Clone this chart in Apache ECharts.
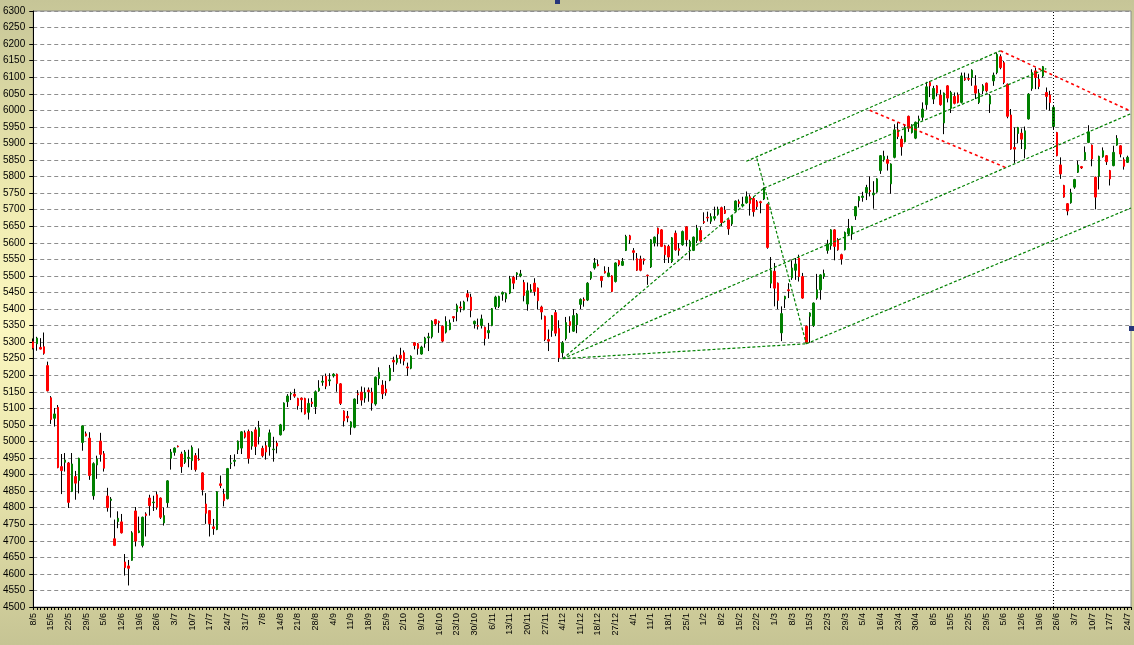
<!DOCTYPE html>
<html>
<head>
<meta charset="utf-8">
<title>CAC 40</title>
<script src="https://cdn.jsdelivr.net/npm/echarts@6.0.0/dist/echarts.min.js"></script>
<style>
  html, body { margin: 0; padding: 0; }
  body {
    width: 1134px; height: 645px; overflow: hidden;
    background: linear-gradient(to bottom, #c6c597 0%, #eeeab0 30%, #fbf7c0 50%, #ebe7ae 72%, #c6c494 100%);
  }
  #chart { width: 1134px; height: 645px; }
</style>
</head>
<body>
<div id="chart"></div>
<script>
  // trading calendar: first session and the days the market was shut
  const firstDay = [2006, 5, 8];
  const holidays = ['25/12/2006', '26/12/2006', '1/1/2007', '6/4/2007', '9/4/2007', '1/5/2007'];

  const opens = [
    5301,5295,5284,5286,5229,5132,5070,5103,4924,4937,
    4935,4849,4894,4882,4997,5023,5010,4836,4929,5001,
    4963,4835,4822,4706,4758,4757,4636,4624,4641,4790,
    4725,4686,4781,4829,4815,4839,4829,4754,4815,4949,
    4967,4986,4962,4937,4949,4942,4957,4947,4905,4811,
    4791,4742,4734,4872,4841,4827,4933,4940,4975,4980,
    5026,5030,4986,5035,5015,4979,4987,4984,4975,4995,
    5020,5035,5120,5143,5143,5130,5131,5130,5088,5119,
    5105,5153,5179,5197,5183,5198,5203,5174,5092,5076,
    5043,5043,5144,5149,5131,5155,5149,5113,5190,5170,
    5158,5185,5245,5239,5260,5268,5225,5221,5298,5295,
    5264,5296,5313,5316,5368,5362,5348,5330,5338,5377,
    5392,5406,5398,5446,5436,5355,5350,5350,5345,5328,
    5350,5407,5408,5445,5431,5448,5496,5504,5500,5480,
    5415,5453,5478,5463,5406,5378,5308,5335,5389,5341,
    5268,5311,5362,5333,5352,5414,5429,5427,5493,5524,
    5534,5498,5514,5498,5500,5483,5546,5532,5577,5621,
    5576,5552,5551,5551,5502,5527,5599,5644,5639,5591,
    5589,5543,5629,5582,5594,5648,5589,5577,5607,5637,
    5664,5677,5665,5674,5686,5706,5699,5669,5657,5697,
    5724,5712,5721,5739,5734,5724,5724,5732,5716,5478,
    5514,5478,5328,5430,5458,5494,5517,5554,5498,5348,
    5378,5350,5433,5458,5498,5577,5591,5639,5609,5564,
    5579,5627,5627,5681,5727,5737,5751,5758,5745,5753,
    5818,5851,5851,5778,5858,5941,5913,5905,5982,5933,
    5916,5969,5979,6017,6084,6034,6074,6046,5962,6074,
    6006,6042,6046,6024,6096,6096,6099,6074,6024,6059,
    6082,6019,6089,6114,6162,6144,6079,5986,5888,5930,
    5931,5883,5974,6066,6119,6094,6104,6054,6046,5951,
    5933,5835,5773,5718,5721,5768,5813,5830,5851,5903,
    5895,5798,5801,5860,5863,5818,5833,5895,5893,5851,5843
  ];
  const closes = [
    5282,5312,5279,5266,5153,5066,5083,4921,4912,4944,
    4816,4932,4874,4949,5047,5017,4897,4933,4947,4961,
    4919,4800,4826,4686,4768,4724,4619,4617,4724,4699,
    4730,4771,4776,4806,4817,4801,4771,4776,4881,4968,
    4980,4984,4924,4968,4952,4982,4915,4945,4854,4783,
    4752,4737,4848,4867,4821,4918,4935,4943,5001,5029,
    5013,4949,5028,4985,5041,4957,4968,5026,4977,4986,
    5050,5116,5137,5145,5137,5108,5126,5083,5115,5114,
    5150,5161,5182,5167,5186,5203,5175,5115,5062,5071,
    5059,5128,5141,5125,5147,5150,5116,5194,5209,5144,
    5147,5221,5240,5251,5251,5243,5222,5257,5290,5281,
    5285,5312,5316,5363,5355,5359,5303,5362,5358,5373,
    5410,5403,5421,5436,5396,5363,5348,5370,5311,5335,
    5401,5436,5438,5450,5447,5491,5478,5509,5506,5441,
    5455,5458,5453,5425,5391,5308,5303,5380,5327,5253,
    5298,5359,5350,5380,5384,5429,5426,5478,5511,5539,
    5531,5486,5509,5509,5453,5539,5534,5544,5619,5609,
    5571,5517,5517,5546,5500,5609,5617,5627,5589,5564,
    5557,5615,5579,5577,5634,5609,5604,5617,5644,5607,
    5661,5675,5679,5679,5701,5661,5689,5642,5682,5726,
    5719,5716,5739,5719,5694,5709,5721,5762,5586,5516,
    5463,5426,5386,5438,5455,5524,5536,5498,5433,5298,
    5388,5418,5458,5503,5507,5596,5639,5589,5579,5551,
    5631,5643,5649,5709,5739,5741,5767,5755,5750,5793,
    5863,5861,5840,5838,5941,5921,5890,5948,5946,5951,
    5964,5974,6004,6071,6074,6066,6052,6017,6052,6037,
    6054,6021,6024,6104,6092,6094,6121,6052,6052,6074,
    6059,6044,6106,6169,6129,6084,5982,5883,5883,5948,
    5913,5938,6049,6114,6099,6072,6132,6042,6024,6009,
    5863,5808,5738,5696,5751,5791,5835,5826,5873,5935,
    5853,5738,5861,5878,5845,5793,5873,5915,5868,5831,5858
  ];
  const lows = [
    5278,5274,5278,5262,5151,5053,5045,4919,4841,4909,
    4799,4847,4824,4843,4972,5015,4884,4824,4887,4939,
    4909,4788,4770,4684,4738,4722,4595,4565,4640,4683,
    4723,4680,4713,4776,4790,4794,4766,4746,4801,4915,
    4957,4982,4905,4932,4922,4914,4909,4942,4837,4751,
    4713,4718,4732,4859,4804,4825,4917,4925,4962,4962,
    5009,4933,4975,4959,4991,4952,4945,4957,4939,4964,
    5018,5031,5104,5125,5132,5096,5088,5081,5066,5104,
    5083,5150,5168,5158,5168,5193,5150,5110,5045,5058,
    5020,5040,5113,5108,5117,5120,5093,5108,5170,5128,
    5138,5182,5210,5232,5235,5230,5198,5218,5278,5262,
    5262,5283,5273,5311,5350,5328,5300,5326,5336,5361,
    5363,5390,5396,5423,5375,5341,5338,5341,5290,5310,
    5348,5400,5403,5425,5420,5445,5460,5488,5496,5423,
    5395,5450,5440,5399,5368,5303,5273,5316,5318,5240,
    5253,5305,5328,5331,5327,5400,5407,5424,5488,5519,
    5529,5465,5507,5496,5451,5480,5529,5530,5575,5597,
    5547,5515,5514,5534,5473,5524,5589,5589,5587,5539,
    5539,5539,5576,5561,5591,5589,5547,5575,5599,5604,
    5657,5664,5657,5667,5682,5651,5687,5624,5651,5694,
    5707,5707,5719,5682,5679,5701,5689,5729,5582,5463,
    5408,5400,5303,5403,5433,5488,5488,5483,5431,5294,
    5298,5346,5428,5428,5491,5567,5579,5547,5576,5534,
    5577,5621,5609,5669,5707,5724,5729,5740,5703,5751,
    5808,5845,5818,5748,5855,5913,5863,5903,5935,5930,
    5913,5948,5969,6002,6040,6019,6042,6014,5928,6024,
    5992,6018,6021,6021,6089,6089,6074,6034,6019,6049,
    6054,5992,6074,6109,6124,6079,5976,5881,5841,5900,
    5883,5855,5972,6059,6064,6064,6099,6002,5999,5943,
    5861,5793,5736,5683,5718,5763,5811,5823,5848,5901,
    5831,5701,5761,5857,5835,5773,5831,5893,5858,5821,5841
  ];
  const highs = [
    5311,5316,5312,5329,5241,5137,5101,5110,4962,4965,
    4938,4965,4911,4951,5048,5030,5028,4937,4957,5026,
    4971,4860,4832,4764,4789,4781,4660,4642,4729,4802,
    4773,4773,4786,4839,4836,4849,4831,4801,4883,4977,
    4982,4988,4969,4974,4975,4988,4965,4979,4907,4844,
    4793,4766,4850,4897,4857,4920,4959,4961,5003,5031,
    5033,5036,5031,5043,5062,4987,5000,5036,5014,5002,
    5053,5118,5143,5150,5159,5132,5133,5132,5130,5131,
    5154,5185,5198,5205,5206,5206,5205,5176,5094,5092,
    5061,5130,5155,5166,5163,5163,5162,5196,5224,5185,
    5183,5231,5256,5262,5283,5275,5238,5260,5300,5297,
    5289,5316,5328,5366,5370,5365,5350,5378,5368,5378,
    5416,5423,5425,5457,5446,5365,5371,5383,5347,5358,
    5403,5440,5440,5453,5449,5500,5500,5511,5518,5488,
    5480,5475,5493,5465,5410,5380,5338,5382,5397,5366,
    5303,5376,5378,5400,5388,5432,5435,5481,5514,5554,
    5549,5500,5529,5527,5502,5541,5549,5554,5624,5624,
    5584,5569,5561,5553,5504,5611,5619,5646,5641,5594,
    5594,5617,5637,5599,5637,5650,5609,5619,5654,5647,
    5692,5694,5689,5709,5709,5709,5711,5671,5684,5728,
    5731,5739,5755,5746,5739,5729,5727,5767,5719,5557,
    5539,5480,5408,5440,5478,5547,5554,5564,5509,5350,
    5390,5420,5506,5505,5519,5609,5641,5641,5614,5567,
    5634,5672,5651,5711,5741,5754,5775,5800,5786,5795,
    5865,5878,5863,5840,5958,5964,5923,5958,5984,5958,
    5966,5984,6024,6086,6088,6074,6076,6062,6054,6076,
    6059,6054,6054,6114,6114,6111,6124,6106,6064,6079,
    6084,6049,6114,6174,6169,6149,6081,6004,5948,5950,
    5945,5951,6052,6124,6129,6109,6134,6069,6059,6014,
    5935,5858,5775,5720,5763,5793,5848,5832,5891,5955,
    5897,5800,5863,5888,5865,5820,5893,5925,5895,5858,5863
  ];

  // drawn lines: [fromDay, fromValue, toDay, toValue]
  const greenLines = [
    [150, 5250, 207, 5765],
    [150, 5250, 219, 5295],
    [150, 5250, 311, 5990],
    [207, 5765, 287, 6126],
    [219, 5295, 311, 5705],
    [202, 5846, 274, 6180],
    [205, 5855, 219, 5295]
  ];
  const redLines = [
    [274, 6180, 311, 5997],
    [237, 6000, 276, 5825]
  ];
  const cursorDay = 289;

  function tradingDays (count) {
    const out = [];
    const d = new Date(firstDay[0], firstDay[1] - 1, firstDay[2]);
    while (out.length < count) {
      const wd = d.getDay();
      const key = d.getDate() + '/' + (d.getMonth() + 1) + '/' + d.getFullYear();
      if (wd !== 0 && wd !== 6 && holidays.indexOf(key) < 0) {
        out.push(d.getDate() + '/' + (d.getMonth() + 1));
      }
      d.setDate(d.getDate() + 1);
    }
    return out;
  }

  const days = tradingDays(opens.length);
  days.push('');   // empty slot at the right border

  const wicks = opens.map((o, i) => [o, closes[i], lows[i], highs[i]]);
  const bodies = opens.map((o, i) => [o, closes[i], Math.min(o, closes[i]), Math.max(o, closes[i])]);

  const font = '"Liberation Sans", Arial, sans-serif';

  function segs (list, style) {
    return list.map(l => [
      { coord: [l[0], l[1]], lineStyle: style },
      { coord: [l[2], l[3]] }
    ]);
  }

  const chart = echarts.init(document.getElementById('chart'));
  const option = {
    animation: false,
    backgroundColor: 'transparent',
    grid: {
      left: 33, right: 3, top: 11, bottom: 38,
      show: true, backgroundColor: '#ffffff', borderColor: '#8a8a8a', borderWidth: 1
    },
    xAxis: {
      type: 'category',
      data: days,
      boundaryGap: false,
      axisLine: { lineStyle: { color: '#000', width: 1 } },
      axisTick: { interval: 0, length: 3, lineStyle: { color: '#000' } },
      axisLabel: { interval: 4, rotate: 90, fontSize: 9, color: '#000', margin: 6, fontFamily: font },
      splitLine: { show: false }
    },
    yAxis: {
      type: 'value',
      min: 4500, max: 6300, interval: 50,
      axisLine: { show: true, lineStyle: { color: '#000', width: 1 } },
      axisTick: { show: true, length: 4, lineStyle: { color: '#000' } },
      axisLabel: {
        color: '#000', fontSize: 10, margin: 8, fontFamily: font,
        formatter: function (v) { return String(v); }
      },
      splitLine: { show: true, lineStyle: { color: '#8e8e8e', type: [4, 3], width: 1 } }
    },
    series: [
      {
        name: 'wick',
        type: 'candlestick',
        data: wicks,
        barWidth: 1,
        itemStyle: { color: '#000', color0: '#000', borderColor: '#000', borderColor0: '#000', borderWidth: 1 },
        markLine: {
          silent: true,
          symbol: ['none', 'none'],
          label: { show: false },
          data: segs(greenLines, { color: '#008000', width: 1.2, type: [3, 2] })
            .concat(segs(redLines, { color: '#ff0000', width: 1.6, type: [3, 3] }))
            .concat([[
              { coord: [cursorDay, 4500], lineStyle: { color: '#000', width: 1, type: [1, 2] } },
              { coord: [cursorDay, 6300] }
            ]])
        }
      },
      {
        name: 'body',
        type: 'candlestick',
        data: bodies,
        barWidth: 2,
        z: 3,
        itemStyle: { color: '#008000', color0: '#ff0000', borderColor: '#008000', borderColor0: '#ff0000', borderWidth: 1 }
      }
    ],
    graphic: [
      { type: 'rect', shape: { x: 555, y: 0, width: 5, height: 4 }, style: { fill: '#26367a' } },
      { type: 'rect', shape: { x: 1129, y: 326, width: 5, height: 5 }, style: { fill: '#26367a' } }
    ]
  };
  chart.setOption(option);
  window.addEventListener('resize', function () {
    chart.resize();
  });
</script>
</body>
</html>
